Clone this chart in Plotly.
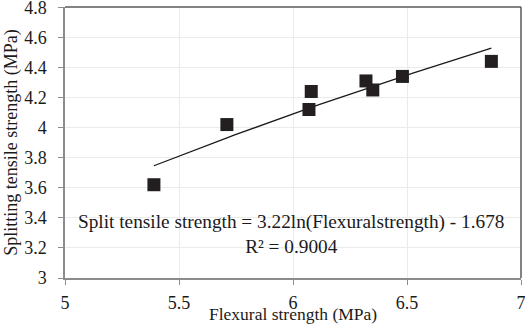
import numpy as np
import plotly.graph_objects as go

# 讀圖估計的資料點
flexural = [5.39, 5.71, 6.07, 6.08, 6.32, 6.35, 6.48, 6.87]
split_tensile = [3.62, 4.02, 4.12, 4.24, 4.31, 4.25, 4.34, 4.44]

x_ticks = [5, 5.5, 6, 6.5, 7]
y_ticks = [3, 3.2, 3.4, 3.6, 3.8, 4, 4.2, 4.4, 4.6, 4.8]

# 對數趨勢線 (Excel 的 ln 擬合)
b, a = np.polyfit(np.log(flexural), split_tensile, 1)
xs = np.linspace(min(flexural), max(flexural), 60)
ys = b * np.log(xs) + a

font_serif = "Liberation Serif, Times New Roman, serif"
txt_color = "#1a1a1a"

fig = go.Figure()
fig.add_trace(go.Scatter(
    x=xs, y=ys, mode="lines",
    line=dict(color="#1a1a1a", width=1.3),
    hoverinfo="skip", showlegend=False
))
fig.add_trace(go.Scatter(
    x=flexural, y=split_tensile, mode="markers",
    marker=dict(symbol="square", size=13, color="#231f20"),
    showlegend=False
))

fig.add_annotation(
    x=0.495, y=3.293, xref="paper", yref="y",
    text="Split tensile strength = 3.22ln(Flexuralstrength) - 1.678<br>R² = 0.9004",
    showarrow=False, align="center",
    font=dict(family=font_serif, size=19.3, color=txt_color)
)

# x 軸標題用註解放，位置較好控制
fig.add_annotation(
    x=0.5, y=0, xref="paper", yref="paper", yanchor="bottom", yshift=-48,
    text="Flexural strength (MPa)", showarrow=False,
    font=dict(family=font_serif, size=17.5, color=txt_color)
)

# 上方與右方的深色框線
fig.add_shape(type="line", xref="paper", yref="paper", x0=0, x1=1, y0=1, y1=1,
              line=dict(color="#5a5a5a", width=1.5))
fig.add_shape(type="line", xref="paper", yref="paper", x0=1, x1=1, y0=0, y1=1,
              line=dict(color="#5a5a5a", width=1.5))

fig.update_xaxes(
    range=[5, 7], tickvals=x_ticks, ticktext=[f"{t:g}" for t in x_ticks],
    showgrid=True, gridcolor="#ebebeb", gridwidth=1,
    showline=True, linecolor="#8c8c8c", linewidth=1.5,
    ticks="outside", ticklen=5, tickcolor="#8c8c8c",
    ticklabelstandoff=3, ticklabeloverflow="allow",
    zeroline=False, automargin=False,
    tickfont=dict(family=font_serif, size=18, color=txt_color)
)
fig.update_yaxes(
    range=[3, 4.8015], tickvals=y_ticks, ticktext=[f"{t:g}" for t in y_ticks],
    showgrid=True, gridcolor="#ebebeb", gridwidth=1,
    showline=True, linecolor="#8c8c8c", linewidth=1.5,
    ticks="outside", ticklen=5, tickcolor="#8c8c8c",
    ticklabelstandoff=8, ticklabeloverflow="allow",
    zeroline=False, automargin=False,
    title=dict(text="Splitting tensile strength (MPa)", standoff=2,
               font=dict(family=font_serif, size=18, color=txt_color)),
    tickfont=dict(family=font_serif, size=18, color=txt_color)
)

fig.update_layout(
    width=525, height=324,
    margin=dict(l=65, r=4, t=7, b=46),
    paper_bgcolor="white", plot_bgcolor="white"
)

# 去掉頁面預設的 body 邊距
fig.write_html("out.html", config={"displayModeBar": False},
               post_script="document.body.style.margin='0';")
